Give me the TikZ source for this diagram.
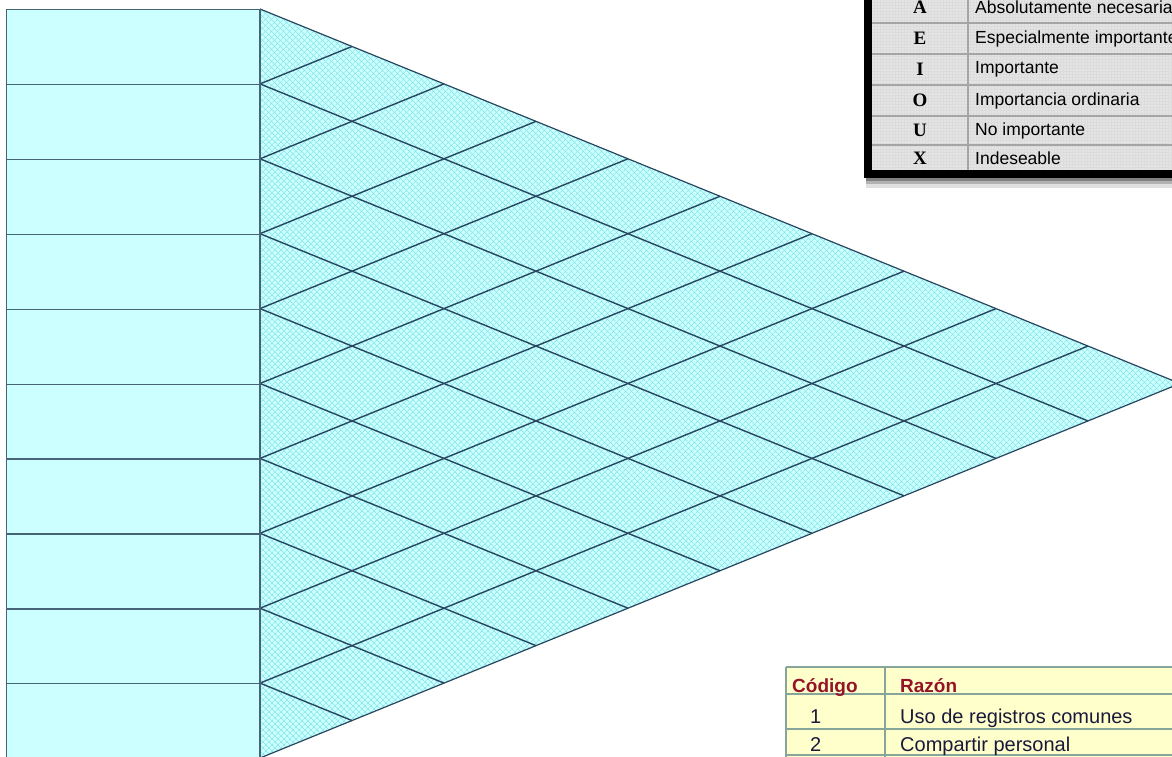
\documentclass[tikz,border=0pt]{standalone}
\usepackage{fontspec}
\setmainfont{Liberation Serif}
\newfontfamily\sansfont{Liberation Sans}
\usepackage{xcolor}
\usetikzlibrary{patterns.meta}

\definecolor{cellcyan}{RGB}{204,255,255}
\definecolor{hatchcyan}{RGB}{110,220,226}
\definecolor{gridline}{RGB}{40,70,95}
\definecolor{boxline}{RGB}{70,100,120}
\definecolor{keygray}{RGB}{220,220,220}
\definecolor{keyrule}{RGB}{165,165,165}
\definecolor{paleyellow}{RGB}{255,255,204}
\definecolor{reasonline}{RGB}{135,165,155}
\definecolor{headred}{RGB}{150,20,40}
\definecolor{textnavy}{RGB}{25,25,60}

\begin{document}
\begin{tikzpicture}[
    x=1pt, y=-1pt,
    rowbox/.style={rectangle, draw=boxline, line width=1.3pt, fill=cellcyan,
                   minimum width=254pt, minimum height=74.9pt, anchor=north west, inner sep=0pt},
    diag/.style={draw=gridline, line width=1.4pt},
    hatchA/.style={pattern={Lines[angle=45, distance=4pt, line width=0.55pt]}, pattern color=hatchcyan},
    hatchB/.style={pattern={Lines[angle=-45, distance=4pt, line width=0.55pt]}, pattern color=hatchcyan},
    letter/.style={font=\fontsize{19}{22}\selectfont\bfseries},
    meaning/.style={anchor=west, inner sep=0pt, font=\sansfont\fontsize{17.5}{20}\selectfont},
    reason/.style={anchor=base west, inner sep=0pt, text=textnavy, font=\sansfont\fontsize{20}{23}\selectfont},
    reasonhead/.style={reason, text=headred, font=\sansfont\bfseries\fontsize{19}{22}\selectfont},
]

\useasboundingbox (0,0) rectangle (1172,757);
\clip (0,0) rectangle (1172,757);
\fill[white] (0,0) rectangle (1172,757);

% Left column of departments
\foreach \i in {0,...,9}
  \node[rowbox] (dept\i) at (6, {9+74.9*\i}) {};
\foreach \i in {0,...,10}
  \coordinate (L\i) at (260, {9+74.9*\i});
\coordinate (apex) at (1180, 383.5);

% Relationship triangle
\fill[cellcyan] (L0) -- (apex) -- (L10) -- cycle;
\fill[hatchA] (L0) -- (apex) -- (L10) -- cycle;
\fill[hatchB] (L0) -- (apex) -- (L10) -- cycle;
\foreach \i in {1,...,9} {
  \draw[diag] (L\i) -- ++({(10-\i)*92}, {(10-\i)*37.45});
  \draw[diag] (L\i) -- ++({\i*92}, {-\i*37.45});
}
\draw[diag, line width=1.2pt] (L0) -- (apex) -- (L10);
\draw[draw=boxline, line width=1.3pt] (L0) -- (L10);

% Key of closeness letters
\fill[black!12] (866,-20) rectangle (1200,188);
\fill[black!30] (866,-20) rectangle (1200,184);
\fill[black!50] (866,-20) rectangle (1200,181);
\draw[line width=8pt, fill=keygray] (868,-30) rectangle (1210,174);
\fill[pattern={Dots[distance=3pt, radius=0.55pt]}, pattern color=white] (872,-30) rectangle (1210,170);
\foreach \y in {23,54,85,116,145}
  \draw[keyrule, line width=1.5pt] (872,\y) -- (1210,\y);
\draw[keyrule, line width=1.5pt] (968,-30) -- (968,170);
\foreach \c/\t/\y in {A/Absolutamente necesaria/7.5, E/Especialmente importante/38.5,
                     I/Importante/69.5, O/Importancia ordinaria/100.5,
                     U/No importante/130.5, X/Indeseable/158} {
  \node[letter] (code\c) at (920,\y) {\c};
  \node[meaning] (mean\c) at (975,\y) {\t};
}

% Reasons table
\fill[paleyellow] (786,667) rectangle (1200,757);
\foreach \y in {667,694,729,755}
  \draw[reasonline, line width=1.2pt] (786,\y) -- (1200,\y);
\draw[reasonline, line width=1.2pt] (786,667) -- (786,757);
\draw[reasonline, line width=1.2pt] (885,667) -- (885,757);
\node[reasonhead] (codehead) at (792,692) {Código};
\node[reasonhead] (reasonhead) at (900,692) {Razón};
\node[reason] (code1) at (810,723) {1};
\node[reason] (reason1) at (900,723) {Uso de registros comunes};
\node[reason] (code2) at (810,751) {2};
\node[reason] (reason2) at (900,751) {Compartir personal};

\end{tikzpicture}
\end{document}
